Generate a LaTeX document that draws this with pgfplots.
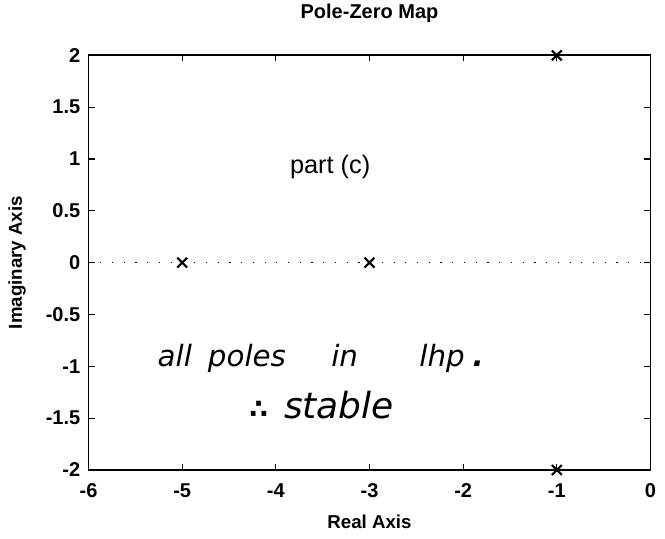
\documentclass[border=0pt]{standalone}
\usepackage{pgfplots}
\pgfplotsset{compat=1.18}
\usepackage{fontspec}
\setmainfont{Liberation Sans}
\newfontfamily\handfont{DejaVu Sans}
\begin{document}
\begin{tikzpicture}
\begin{axis}[
  width=421.5pt, height=311pt, scale only axis,
  xmin=-6, xmax=0, ymin=-2, ymax=2,
  xtick={-6,-5,-4,-3,-2,-1,0},
  ytick={-2,-1.5,-1,-0.5,0,0.5,1,1.5,2},
  yticklabels={-2,-1.5,-1,-0.5,0,0.5,1,1.5,2},
  xticklabels={-6,-5,-4,-3,-2,-1,0},
  tick align=inside, major tick length=4.5pt,
  tick style={black, line width=0.9pt},
  axis line style={line width=1.4pt},
  every tick label/.append style={font=\fontsize{15}{17}\selectfont\bfseries, inner sep=0pt},
  yticklabel style={anchor=east, xshift=-6pt},
  xticklabel style={anchor=north, yshift=-10pt},
  title={\bfseries Pole-Zero Map},
  title style={font=\fontsize{15}{17}\selectfont, at={(axis description cs:0.5,1.081)}, anchor=center},
  xlabel={\bfseries Real Axis},
  ylabel={\bfseries Imaginary Axis},
  label style={font=\fontsize{14}{16}\selectfont},
  xlabel style={at={(axis description cs:0.5,-0.125)}, anchor=center},
  ylabel style={at={(axis description cs:-0.127,0.5)}, anchor=center},
  clip=false,
  /pgf/number format/assume math mode=true,
]
\addplot[black, line width=0.9pt, dash pattern=on 0.9pt off 7.9pt, forget plot] coordinates {(-6,0) (0,0)};
\addplot[only marks, mark=x, mark size=5.25pt, mark options={line width=1.6pt}, black] coordinates {(-5,0) (-3,0) (-1,2) (-1,-2)};
\node[font=\fontsize{19}{21}\selectfont] at (axis cs:-3.42,0.92) {part (c)};
\node[font=\handfont\itshape\fontsize{22}{24}\selectfont] at (axis cs:-3.52,-0.92) {all\hspace{12pt}poles\hspace{34pt}in\hspace{46pt}lhp\hspace{6pt}\textbf{.}};
\node[font=\handfont\itshape\fontsize{27}{29}\selectfont] at (axis cs:-3.51,-1.37) {{\upshape\bfseries\fontsize{20}{22}\selectfont ∴}\hspace{12pt}stable};
\path[use as bounding box] (rel axis cs:0,0) ++(-66.4pt,-51.4pt) rectangle ([xshift=10.9pt,yshift=38.6pt]rel axis cs:1,1);
\end{axis}
\end{tikzpicture}
\end{document}
